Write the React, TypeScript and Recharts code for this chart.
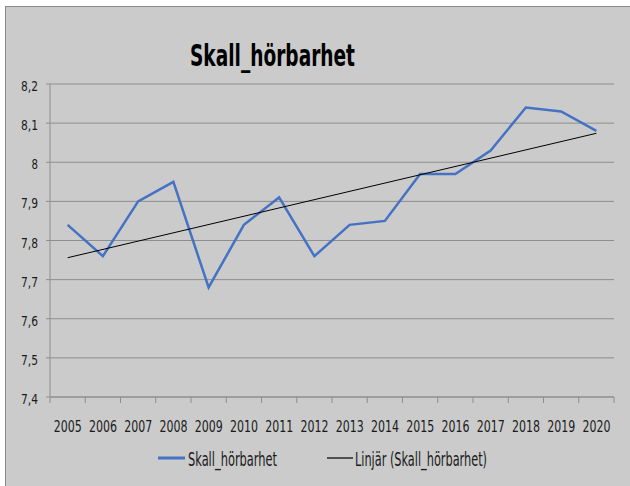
import React from 'react';
import { LineChart, Line, XAxis, YAxis, CartesianGrid, Legend, Customized } from 'recharts';

const years = ['2005','2006','2007','2008','2009','2010','2011','2012','2013','2014','2015','2016','2017','2018','2019','2020'];
const values = [7.84, 7.76, 7.90, 7.95, 7.68, 7.84, 7.91, 7.76, 7.84, 7.85, 7.97, 7.97, 8.03, 8.14, 8.13, 8.08];
// linear trend line: read at first and last year, drawn straight between
const trendValues: (number | null)[] = [7.756, null, null, null, null, null, null, null, null, null, null, null, null, null, null, 8.074];
const yTicks = [7.4, 7.5, 7.6, 7.7, 7.8, 7.9, 8.0, 8.1, 8.2];
const seriesName = 'Skall_hörbarhet';
const trendName = 'Linjär (Skall_hörbarhet)';
const titleText = 'Skall_hörbarhet';

const data = years.map((y, i) => ({ idx: i, year: y, value: values[i], trend: trendValues[i] }));
// category centres carry labels, category boundaries carry tick marks
const xTicks: number[] = [];
years.forEach((_, i) => { xTicks.push(i - 0.5); xTicks.push(i); });
xTicks.push(years.length - 0.5);

const FONT = "'Liberation Sans Narrow', 'DejaVu Sans Condensed', 'Liberation Sans', sans-serif";
const GRID = '#8e8e8e';

const fmtY = (v: number) => String(Number(v.toFixed(1))).replace('.', ',');

const YTick = (props: any) => {
  const { x, y, payload } = props;
  const label = fmtY(payload.value);
  return (
    <text x={x} y={y + 7} textAnchor="end" fontFamily={FONT} fontSize={14} fill="#1a1a1a"
      textLength={label.length === 1 ? 6.5 : 17} lengthAdjust="spacingAndGlyphs">
      {label}
    </text>
  );
};

const XTick = (props: any) => {
  const { x, y, payload } = props;
  const v = payload.value as number;
  if (!Number.isInteger(v)) {
    return <line x1={x} x2={x} y1={y} y2={y + 6} stroke={GRID} strokeWidth={1} />;
  }
  return (
    <text x={x} y={y + 35} textAnchor="middle" fontFamily={FONT} fontSize={16} fill="#1a1a1a"
      textLength={28} lengthAdjust="spacingAndGlyphs">
      {years[v]}
    </text>
  );
};

const Title = () => (
  <text x={190} y={66} fontFamily={FONT} fontSize={31} fontWeight="bold" fill="#000"
    textLength={165} lengthAdjust="spacingAndGlyphs">
    {titleText}
  </text>
);

const legendLayout: Record<string, { lx1: number; lx2: number; tx: number; tw: number; sw: number }> = {
  value: { lx1: 158, lx2: 185, tx: 188, tw: 89, sw: 3 },
  trend: { lx1: 327, lx2: 353, tx: 355, tw: 132, sw: 1.2 },
};

const LegendContent = (props: any) => {
  const payload = props.payload || [];
  return (
    <svg width={630} height={40} style={{ display: 'block' }}>
      {payload.map((p: any, i: number) => {
        const l = legendLayout[p.dataKey] || legendLayout.value;
        return (
          <g key={i}>
            <line x1={l.lx1} x2={l.lx2} y1={18} y2={18} stroke={p.color} strokeWidth={l.sw} />
            <text x={l.tx} y={26} fontFamily={FONT} fontSize={19} fill="#1a1a1a"
              textLength={l.tw} lengthAdjust="spacingAndGlyphs">{p.value}</text>
          </g>
        );
      })}
    </svg>
  );
};

export default function App() {
  return (
    <div style={{ position: 'absolute', left: 0, top: 0, width: 630, height: 486, background: '#ffffff', overflow: 'hidden' }}>
      <div style={{ position: 'absolute', left: 5, top: 6, width: 640, height: 500, border: '1px solid #8a8a8a', background: '#cbcbcb' }} />
      <div style={{ position: 'absolute', left: 0, top: 0 }}>
        <LineChart width={630} height={486} data={data} margin={{ top: 84, right: 16, bottom: 49, left: 0 }}>
          <CartesianGrid vertical={false} stroke={GRID} strokeWidth={1} />
          <XAxis dataKey="idx" type="number" domain={[-0.5, 15.5]} ticks={xTicks} interval={0}
            tick={<XTick />} tickLine={false} axisLine={{ stroke: GRID }} tickSize={0} tickMargin={0} height={40} />
          <YAxis domain={[7.4, 8.2]} ticks={yTicks} interval={0} width={50} tick={<YTick />}
            tickLine={{ stroke: GRID }} tickSize={4} tickMargin={8} axisLine={{ stroke: GRID }} />
          <Line dataKey="value" name={seriesName} stroke="#4472c4" strokeWidth={2.5} dot={false}
            isAnimationActive={false} />
          <Line dataKey="trend" name={trendName} stroke="#000000" strokeWidth={1} dot={false}
            connectNulls isAnimationActive={false} />
          <Legend verticalAlign="middle" align="center" layout="horizontal" content={<LegendContent />}
            wrapperStyle={{ left: 0, top: 440, width: 630, height: 40 }} />
          <Customized component={Title} />
        </LineChart>
      </div>
    </div>
  );
}
